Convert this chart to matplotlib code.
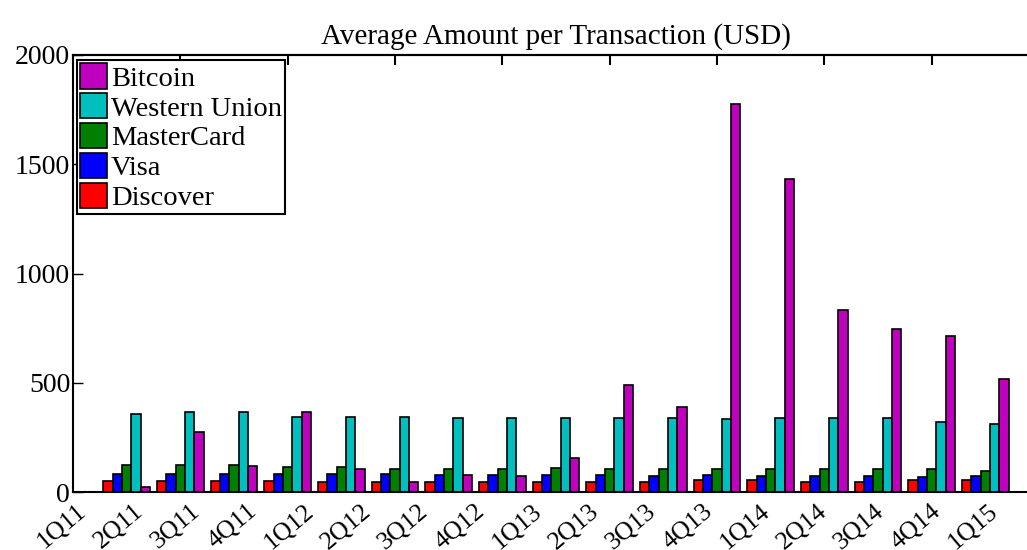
import numpy as np
import matplotlib
matplotlib.use("Agg")
import matplotlib.pyplot as plt

quarters = ["1Q11", "2Q11", "3Q11", "4Q11", "1Q12", "2Q12", "3Q12", "4Q12", "1Q13",
            "2Q13", "3Q13", "4Q13", "1Q14", "2Q14", "3Q14", "4Q14", "1Q15"]

discover = [50, 50, 50, 50, 47, 45, 46, 46, 46, 46, 46, 54, 54, 46, 46, 54, 54]
visa = [81, 81, 81, 81, 81, 81, 78, 78, 78, 78, 73, 80, 75, 73, 73, 69, 72]
mastercard = [122, 122, 122, 113, 113, 103, 103, 103, 110, 105, 103, 104, 104, 104, 104, 104, 95]
western_union = [357, 365, 365, 345, 345, 343, 340, 340, 340, 340, 340, 333, 339, 339, 339, 320, 313]
bitcoin = [23, 273, 120, 365, 103, 46, 78, 72, 156, 490, 390, 1775, 1432, 832, 746, 716, 515]

series = [
    ("Discover", discover, "#ff0000"),
    ("Visa", visa, "#0000ff"),
    ("MasterCard", mastercard, "#008000"),
    ("Western Union", western_union, "#00bfbf"),
    ("Bitcoin", bitcoin, "#bf00bf"),
]

plt.rcParams["font.family"] = ["Liberation Serif", "DejaVu Serif"]

fig = plt.figure(figsize=(10.27, 5.5), dpi=100)
ax = fig.add_axes([73 / 1027, 58 / 550, 966 / 1027, 437 / 550])

x = np.arange(1, len(quarters) + 1)
w = 0.175
handles = []
for k, (name, vals, col) in enumerate(series):
    b = ax.bar(x + (k - 2) * w, vals, w, color=col, edgecolor="black",
               linewidth=1.2, label=name)
    handles.append(b)

ax.set_xlim(0, 18)
ax.set_ylim(0, 2000)
ax.set_yticks([0, 500, 1000, 1500, 2000])
ax.tick_params(axis="y", direction="in", length=7, width=1, labelsize=20, pad=2)

# labels sit on their own spacing, slightly off the group centres
lab_pos = 0.317 + np.arange(len(quarters)) * 1.0625
ax.set_xticks(lab_pos)
ax.set_xticklabels(quarters, rotation=40, ha="right", va="top", fontsize=18.5)
ax.tick_params(axis="x", length=0, pad=6)

top = ax.secondary_xaxis("top")
top.set_xticks(np.arange(0, 19, 2))
top.tick_params(direction="in", length=7, width=1.5, labeltop=False)
top.spines["top"].set_linewidth(1.5)

for s in ["left", "bottom", "top", "right"]:
    ax.spines[s].set_linewidth(1.5)

ax.set_title("Average Amount per Transaction (USD)", fontsize=21, pad=8)

leg = ax.legend(handles[::-1], [s[0] for s in series][::-1], loc="upper left",
                bbox_to_anchor=(0.004, 0.988), fontsize=20.5, fancybox=False,
                edgecolor="black", framealpha=1, borderpad=0.1,
                labelspacing=0.05, handlelength=0.95, handleheight=1.0,
                handletextpad=0.15, borderaxespad=0)
leg.get_frame().set_linewidth(1.5)

fig.savefig("out.png", dpi=100)
